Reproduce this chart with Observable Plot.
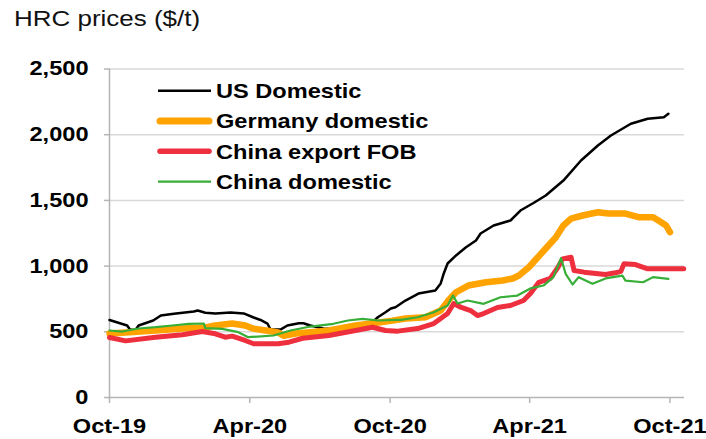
<!DOCTYPE html>
<html>
<head>
<meta charset="utf-8">
<script src="https://cdn.jsdelivr.net/npm/d3@7"></script>
<script src="https://cdn.jsdelivr.net/npm/@observablehq/plot@0.6"></script>
<style>
  html, body { margin: 0; padding: 0; background: #fff; }
  #wrap { position: relative; width: 706px; height: 439px; overflow: hidden; font-family: Arial, "Liberation Sans", sans-serif; }
  #title { height: 40px; line-height: 37px; font-size: 22px; color: #111; white-space: nowrap; }
  #title span { display: inline-block; margin-left: 14px; transform: scaleX(1.18); transform-origin: left center; }
  #legend { position: absolute; left: 0; top: 0; pointer-events: none; }
</style>
</head>
<body>
<div id="wrap">
  <div id="title"><span>HRC prices ($/t)</span></div>
  <div id="chart"></div>
</div>
<script>
// ---- data ----
const seriesNames = ["US Domestic", "Germany domestic", "China export FOB", "China domestic"];
const seriesColors = ["#000000", "#FFA300", "#EE2F3E", "#37AE37"];
const seriesWidths = [2.5, 6.5, 5, 2.2];

const usDomestic = [
  ["2019-10-01",590],["2019-10-24",548],["2019-10-28",515],["2019-11-04",515],["2019-11-08",548],
  ["2019-11-27",586],["2019-12-07",624],["2019-12-24",637],["2020-01-19",654],["2020-01-24",662],
  ["2020-02-03",645],["2020-02-16",640],["2020-03-07",647],["2020-03-24",640],["2020-04-06",609],
  ["2020-04-15",590],["2020-04-24",563],["2020-04-28",517],["2020-05-11",517],["2020-05-20",548],
  ["2020-06-04",565],["2020-06-10",565],["2020-06-19",548],["2020-07-06",525],["2020-07-25",517],
  ["2020-08-11",525],["2020-08-30",540],["2020-09-08",573],["2020-09-15",611],["2020-09-25",649],
  ["2020-10-02",677],["2020-10-08",687],["2020-10-21",738],["2020-11-07",791],["2020-11-29",814],
  ["2020-12-06",868],["2020-12-10",944],["2020-12-15",1020],["2020-12-26",1081],["2021-01-08",1144],
  ["2021-01-21",1195],["2021-01-27",1248],["2021-02-13",1309],["2021-03-07",1347],["2021-03-20",1423],
  ["2021-04-06",1480],["2021-04-22",1537],["2021-05-15",1651],["2021-06-07",1804],["2021-06-29",1918],
  ["2021-07-16",1994],["2021-08-11",2083],["2021-09-02",2121],["2021-09-23",2133],["2021-09-29",2159]
];
const germanyDomestic = [
  ["2019-10-01",487],["2019-10-22",495],["2019-11-30",510],["2020-01-04",525],["2020-02-03",533],
  ["2020-02-16",548],["2020-03-09",563],["2020-03-26",548],["2020-04-05",525],["2020-04-22",510],
  ["2020-05-08",495],["2020-05-15",470],["2020-05-31",487],["2020-06-19",497],["2020-07-13",510],
  ["2020-08-17",548],["2020-09-16",571],["2020-10-04",585],["2020-10-21",601],["2020-11-16",611],
  ["2020-12-06",662],["2020-12-16",738],["2020-12-26",801],["2021-01-11",852],["2021-02-03",877],
  ["2021-02-25",890],["2021-03-10",906],["2021-03-18",928],["2021-03-31",991],["2021-04-09",1050],
  ["2021-04-22",1134],["2021-05-05",1218],["2021-05-15",1309],["2021-05-25",1362],["2021-06-09",1385],
  ["2021-06-29",1410],["2021-07-13",1400],["2021-08-04",1400],["2021-08-21",1372],["2021-09-09",1372],
  ["2021-09-16",1347],["2021-09-26",1309],["2021-10-01",1258]
];
const chinaExportFob = [
  ["2019-10-01",457],["2019-10-22",431],["2019-11-30",459],["2020-01-04",477],["2020-01-30",502],
  ["2020-02-16",485],["2020-02-29",459],["2020-03-09",467],["2020-03-26",434],["2020-04-06",409],
  ["2020-05-08",409],["2020-05-22",421],["2020-06-09",451],["2020-07-13",472],["2020-08-17",510],
  ["2020-09-08",535],["2020-09-25",510],["2020-10-11",505],["2020-11-06",525],["2020-11-27",563],
  ["2020-12-15",639],["2020-12-23",715],["2021-01-01",687],["2021-01-14",662],["2021-01-23",624],
  ["2021-01-31",639],["2021-02-18",685],["2021-03-07",700],["2021-03-24",738],["2021-04-02",791],
  ["2021-04-13",877],["2021-04-28",906],["2021-05-08",991],["2021-05-14",1055],["2021-05-25",1068],
  ["2021-05-29",966],["2021-06-11",954],["2021-07-09",936],["2021-07-22",949],["2021-07-29",960],
  ["2021-08-02",1017],["2021-08-17",1012],["2021-09-02",979],["2021-09-28",979],["2021-10-19",979]
];
const chinaDomestic = [
  ["2019-10-01",510],["2019-10-18",502],["2019-11-08",525],["2019-11-30",535],["2019-12-22",548],
  ["2020-01-12",561],["2020-02-01",563],["2020-02-03",528],["2020-02-25",522],["2020-03-17",497],
  ["2020-03-30",459],["2020-05-02",472],["2020-05-24",510],["2020-06-19",540],["2020-07-19",561],
  ["2020-08-07",586],["2020-08-26",599],["2020-09-16",586],["2020-10-08",590],["2020-10-15",591],
  ["2020-11-06",611],["2020-11-27",649],["2020-12-15",700],["2020-12-22",776],["2020-12-28",715],
  ["2021-01-10",738],["2021-01-31",713],["2021-02-22",763],["2021-03-16",776],["2021-04-02",830],
  ["2021-04-19",852],["2021-05-02",916],["2021-05-12",1060],["2021-05-18",941],["2021-05-27",860],
  ["2021-06-04",916],["2021-06-22",865],["2021-07-09",906],["2021-07-31",928],["2021-08-04",890],
  ["2021-08-27",877],["2021-09-09",916],["2021-09-29",903]
];
const xDomain = ["2019-10-01", "2021-10-20"];
const xTickDates = ["2019-10-01", "2020-04-01", "2020-10-01", "2021-04-01", "2021-10-01"];
const yTicks = [0, 500, 1000, 1500, 2000, 2500];

// ---- build ----
const parse = d3.utcParse("%Y-%m-%d");
const allSeries = [usDomestic, germanyDomestic, chinaExportFob, chinaDomestic];
const rows = allSeries.flatMap((s, i) => s.map(([d, v]) => ({date: parse(d), value: v, series: seriesNames[i]})));

const axisGray = "#b5b5b5";
const textOpts = {fontSize: 20, fontWeight: "bold", fill: "#000"};

const chart = Plot.plot({
  width: 706,
  height: 399,
  marginTop: 28.5,
  marginBottom: 42,
  marginLeft: 109,
  marginRight: 22,
  style: {fontFamily: "Arial, 'Liberation Sans', sans-serif", fontSize: "20px", fontWeight: "bold", background: "#fff", color: "#000", overflow: "visible"},
  x: {type: "utc", domain: xDomain.map(parse)},
  y: {domain: [0, 2500]},
  marks: [
    Plot.gridY(yTicks.filter(d => d > 0), {stroke: "#d9d9d9", strokeOpacity: 1, strokeWidth: 1.5}),
    Plot.ruleY([0], {stroke: axisGray, strokeWidth: 1.5}),
    Plot.ruleX([parse(xDomain[0])], {stroke: axisGray, strokeWidth: 1.5}),
    Plot.axisY(yTicks, {tickSize: 5, tickPadding: 16, tickFormat: d3.format(","), stroke: axisGray, strokeWidth: 1.5, label: null, ...textOpts}),
    Plot.axisX(xTickDates.map(parse), {tickSize: 6, tickPadding: 15, tickFormat: d3.utcFormat("%b-%y"), stroke: axisGray, strokeWidth: 1.5, label: null, ...textOpts}),
    ...seriesNames.map((name, i) => Plot.line(rows.filter(r => r.series === name), {
      x: "date", y: "value", stroke: seriesColors[i], strokeWidth: seriesWidths[i],
      strokeLinejoin: "round", strokeLinecap: "round"
    }))
  ]
});

// the reference is horizontally stretched: widen text glyphs around their anchor
chart.querySelectorAll("text").forEach(t => {
  const x = +(t.getAttribute("x") || 0);
  const tr = t.getAttribute("transform") || "";
  t.setAttribute("transform", `${tr} translate(${x * (1 - 1.18)},0) scale(1.18,1)`);
});
document.getElementById("chart").appendChild(chart);

// legend (inside plot area, upper-left)
const legend = d3.select("#wrap").append("svg")
  .attr("id", "legend").attr("width", 706).attr("height", 439);
seriesNames.forEach((name, i) => {
  const y = 90.7 + i * 30.3;
  const thick = seriesWidths[i] > 3;
  legend.append("line")
    .attr("x1", thick ? 160 : 158).attr("x2", thick ? 209 : 211)
    .attr("y1", y).attr("y2", y)
    .attr("stroke", seriesColors[i]).attr("stroke-width", thick ? seriesWidths[i] + 0.5 : seriesWidths[i])
    .attr("stroke-linecap", thick ? "round" : "butt");
  legend.append("text")
    .attr("transform", `translate(216,${y + 7.2}) scale(1.18,1)`)
    .attr("font-family", "Arial, 'Liberation Sans', sans-serif")
    .attr("font-size", 20).attr("font-weight", "bold").attr("fill", "#000")
    .text(name);
});
</script>
</body>
</html>
